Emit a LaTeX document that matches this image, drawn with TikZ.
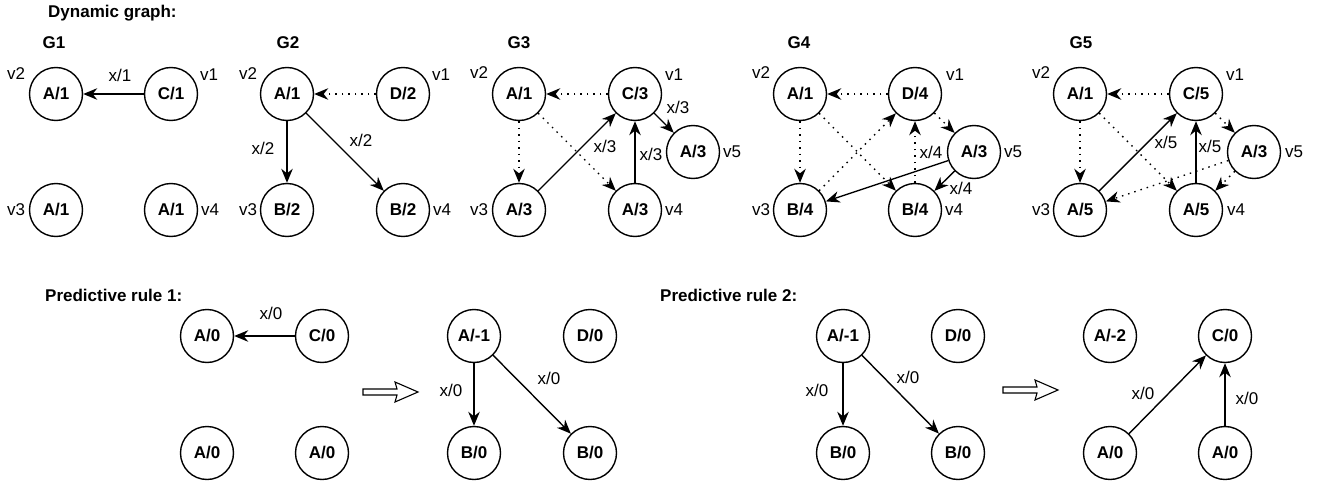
\documentclass[tikz,border=0pt]{standalone}
\usepackage{fontspec}
\setmainfont{Liberation Sans}
\usetikzlibrary{arrows.meta}
\tikzset{
  vert/.style={circle, draw, line width=1.4pt, minimum size=53pt, inner sep=0pt, font=\fontsize{17}{20}\selectfont\bfseries},
  lbl/.style={inner sep=0pt, font=\fontsize{17}{20}\selectfont},
  ttl/.style={inner sep=0pt, font=\fontsize{17}{20}\selectfont\bfseries},
  sol/.style={-{Stealth[length=14pt,width=11.5pt,inset=4.5pt]}, line width=1.4pt},
  dotl/.style={sol, dash pattern=on 1.5pt off 5pt},
  hollow/.style={draw, line width=1.1pt, line join=miter}
}
\begin{document}
\begin{tikzpicture}[x=1pt,y=-1pt]
\useasboundingbox (0,0) rectangle (1325,484);
% headings
\node[ttl, anchor=west] (hdyn) at (48,13) {Dynamic graph:};
\node[ttl, anchor=west] (hr1) at (45,295) {Predictive rule 1:};
\node[ttl, anchor=west] (hr2) at (660,295) {Predictive rule 2:};
% ---------------- G1
\node[ttl] (g1) at (54,43) {G1};
\node[vert] (a2) at (56,94) {A/1};
\node[vert] (a1) at (171,94) {C/1};
\node[vert] (a3) at (56,210) {A/1};
\node[vert] (a4) at (171,210) {A/1};
\node[lbl] (la2) at (16,74) {v2};
\node[lbl] (la1) at (209,75) {v1};
\node[lbl] (la3) at (16,210) {v3};
\node[lbl] (la4) at (210,210) {v4};
\draw[sol] (a1) -- (a2);
\node[lbl] (ea1) at (120,75) {x/1};
% ---------------- G2
\node[ttl] (g2) at (288,43) {G2};
\node[vert] (b2) at (287,94) {A/1};
\node[vert] (b1) at (403,94) {D/2};
\node[vert] (b3) at (287,210) {B/2};
\node[vert] (b4) at (403,210) {B/2};
\node[lbl] (lb2) at (248,74) {v2};
\node[lbl] (lb1) at (441,75) {v1};
\node[lbl] (lb3) at (248,210) {v3};
\node[lbl] (lb4) at (442,210) {v4};
\draw[dotl] (b1) -- (b2);
\draw[sol] (b2) -- (b3);
\draw[sol] (b2) -- (b4);
\node[lbl] (eb1) at (263,148) {x/2};
\node[lbl] (eb2) at (361,140) {x/2};
% ---------------- G3
\node[ttl] (g3) at (519,43) {G3};
\node[vert] (c2) at (519,94) {A/1};
\node[vert] (c1) at (635,94) {C/3};
\node[vert] (c5) at (693,152) {A/3};
\node[vert] (c3) at (519,210) {A/3};
\node[vert] (c4) at (635,210) {A/3};
\node[lbl] (lc2) at (479,73) {v2};
\node[lbl] (lc1) at (674,75) {v1};
\node[lbl] (lc5) at (732,152) {v5};
\node[lbl] (lc3) at (479,210) {v3};
\node[lbl] (lc4) at (674,210) {v4};
\draw[dotl] (c1) -- (c2);
\draw[dotl] (c2) -- (c3);
\draw[dotl] (c2) -- (c4);
\draw[sol] (c3) -- (c1);
\draw[sol] (c4) -- (c1);
\draw[sol] (c1) -- (c5);
\node[lbl] (ec1) at (605,146) {x/3};
\node[lbl] (ec2) at (651,154) {x/3};
\node[lbl] (ec3) at (678,107) {x/3};
% ---------------- G4
\node[ttl] (g4) at (799,43) {G4};
\node[vert] (d2) at (800,94) {A/1};
\node[vert] (d1) at (915,94) {D/4};
\node[vert] (d5) at (974,152) {A/3};
\node[vert] (d3) at (800,210) {B/4};
\node[vert] (d4) at (915,210) {B/4};
\node[lbl] (ld2) at (761,73) {v2};
\node[lbl] (ld1) at (955,75) {v1};
\node[lbl] (ld5) at (1013,152) {v5};
\node[lbl] (ld3) at (761,210) {v3};
\node[lbl] (ld4) at (954,210) {v4};
\draw[dotl] (d1) -- (d2);
\draw[dotl] (d2) -- (d3);
\draw[dotl] (d2) -- (d4);
\draw[dotl] (d3) -- (d1);
\draw[dotl] (d4) -- (d1);
\draw[dotl] (d1) -- (d5);
\draw[sol] (d5) -- (d3);
\draw[sol] (d5) -- (d4);
\node[lbl] (ed1) at (931,152) {x/4};
\node[lbl] (ed2) at (961,188) {x/4};
% ---------------- G5
\node[ttl] (g5) at (1081,43) {G5};
\node[vert] (e2) at (1080,94) {A/1};
\node[vert] (e1) at (1196,94) {C/5};
\node[vert] (e5) at (1254,152) {A/3};
\node[vert] (e3) at (1080,210) {A/5};
\node[vert] (e4) at (1196,210) {A/5};
\node[lbl] (le2) at (1041,73) {v2};
\node[lbl] (le1) at (1235,75) {v1};
\node[lbl] (le5) at (1294,152) {v5};
\node[lbl] (le3) at (1041,210) {v3};
\node[lbl] (le4) at (1236,210) {v4};
\draw[dotl] (e1) -- (e2);
\draw[dotl] (e2) -- (e3);
\draw[dotl] (e2) -- (e4);
\draw[dotl] (e1) -- (e5);
\draw[dotl] (e5) -- (e3);
\draw[dotl] (e5) -- (e4);
\draw[sol] (e3) -- (e1);
\draw[sol] (e4) -- (e1);
\node[lbl] (ee1) at (1166,142) {x/5};
\node[lbl] (ee2) at (1210,146) {x/5};
% ---------------- Rule 1
\node[vert] (p1) at (207,336) {A/0};
\node[vert] (p2) at (322,336) {C/0};
\node[vert] (p3) at (207,453) {A/0};
\node[vert] (p4) at (322,453) {A/0};
\draw[sol] (p2) -- (p1);
\node[lbl] (ep1) at (271,313) {x/0};
\draw[hollow] (363,389) -- (397,389) -- (395,382) -- (418,392) -- (395,402) -- (397,395) -- (363,395) -- cycle;
\node[vert] (q1) at (474,336) {A/-1};
\node[vert] (q2) at (590,336) {D/0};
\node[vert] (q3) at (474,453) {B/0};
\node[vert] (q4) at (590,453) {B/0};
\draw[sol] (q1) -- (q3);
\draw[sol] (q1) -- (q4);
\node[lbl] (eq1) at (451,390) {x/0};
\node[lbl] (eq2) at (549,378) {x/0};
% ---------------- Rule 2
\node[vert] (r1) at (843,336) {A/-1};
\node[vert] (r2) at (958,336) {D/0};
\node[vert] (r3) at (843,453) {B/0};
\node[vert] (r4) at (958,453) {B/0};
\draw[sol] (r1) -- (r3);
\draw[sol] (r1) -- (r4);
\node[lbl] (er1) at (817,390) {x/0};
\node[lbl] (er2) at (908,377) {x/0};
\begin{scope}[shift={(640,-2)}]
\draw[hollow] (363,389) -- (397,389) -- (395,382) -- (418,392) -- (395,402) -- (397,395) -- (363,395) -- cycle;
\end{scope}
\node[vert] (s1) at (1110,336) {A/-2};
\node[vert] (s2) at (1225,336) {C/0};
\node[vert] (s3) at (1110,453) {A/0};
\node[vert] (s4) at (1225,453) {A/0};
\draw[sol] (s3) -- (s2);
\draw[sol] (s4) -- (s2);
\node[lbl] (es1) at (1143,393) {x/0};
\node[lbl] (es2) at (1247,398) {x/0};
\end{tikzpicture}
\end{document}
